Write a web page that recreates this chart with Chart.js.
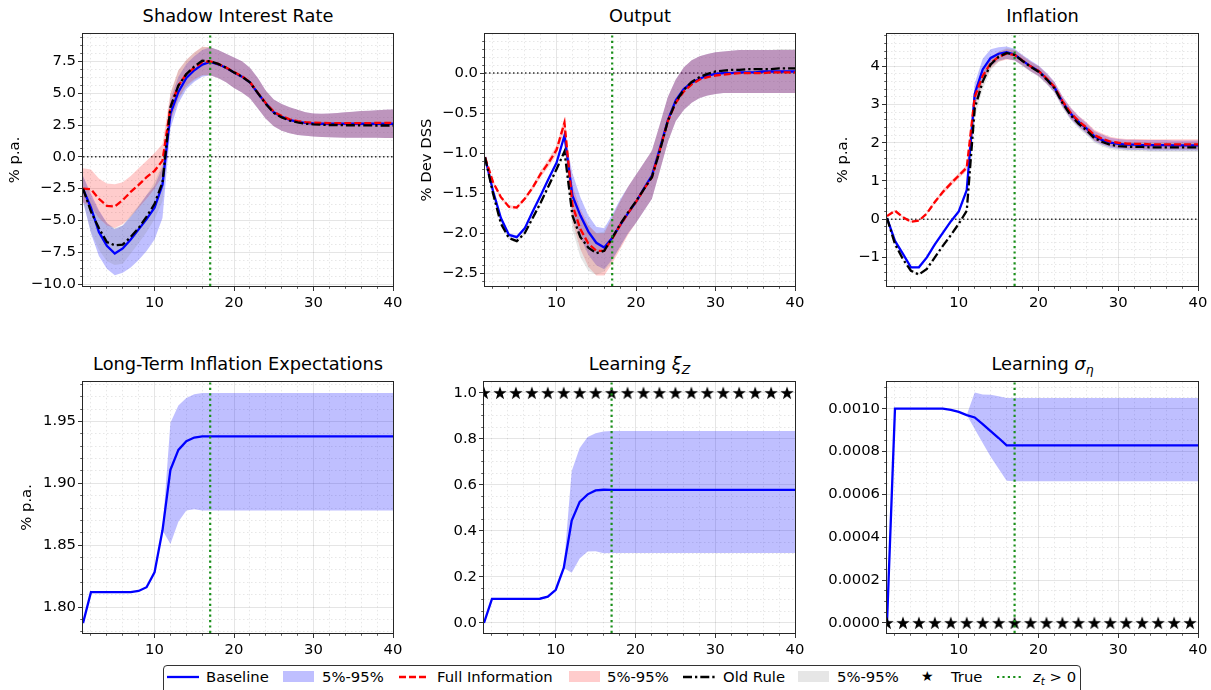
<!DOCTYPE html>
<html>
<head>
<meta charset="utf-8">
<script src="https://cdn.jsdelivr.net/npm/chart.js@4.4.1/dist/chart.umd.min.js"></script>
<style>
  html, body { margin: 0; padding: 0; background: #fff; }
  body { width: 1211px; height: 690px; position: relative; overflow: hidden; font-family: 'DejaVu Sans', sans-serif; color: #000; }
  canvas { position: absolute; }
  .title { position: absolute; text-align: center; font-size: 17.8px; line-height: 20px; white-space: nowrap; }
  .title sub, #legend sub { font-size: 70%; vertical-align: -0.3em; line-height: 0; }
  #legend { position: absolute; left: 163px; top: 665px; width: 916px; height: 40px; border: 1px solid #333; border-radius: 4px; font-size: 14.8px; }
  #legend > * { position: absolute; }
  #legend .txt { top: 2px; line-height: 17px; white-space: nowrap; }
  #legend .patch { top: 5px; width: 31px; height: 11px; }
  #legend svg { top: 5px; }
</style>
</head>
<body>

<div class="title" style="left:83px;width:310px;top:6px">Shadow Interest Rate</div>
<div class="title" style="left:485px;width:310px;top:6px">Output</div>
<div class="title" style="left:887px;width:311px;top:6px">Inflation</div>
<div class="title" style="left:83px;width:310px;top:354px">Long-Term Inflation Expectations</div>
<div class="title" style="left:484px;width:311px;top:354px">Learning <i>ξ</i><sub><i>Z</i></sub></div>
<div class="title" style="left:887px;width:311px;top:354px">Learning <i>σ</i><sub><i>η</i></sub></div>

<canvas id="c1" width="405" height="289" style="left:2px;top:23px"></canvas>
<canvas id="c2" width="395" height="289" style="left:414px;top:23px"></canvas>
<canvas id="c3" width="381" height="289" style="left:830px;top:23px"></canvas>
<canvas id="c4" width="393" height="288" style="left:14px;top:371px"></canvas>
<canvas id="c5" width="395" height="288" style="left:414px;top:371px"></canvas>
<canvas id="c6" width="396" height="288" style="left:815px;top:371px"></canvas>

<div id="legend">
  <svg style="left:3px" width="32" height="12"><line x1="0" y1="6" x2="32" y2="6" stroke="#0000ff" stroke-width="2.3"/></svg>
  <span class="txt" style="left:42px">Baseline</span>
  <span class="patch" style="left:119px;background:rgba(0,0,255,0.25)"></span>
  <span class="txt" style="left:158px">5%-95%</span>
  <svg style="left:235px" width="30" height="12"><line x1="0" y1="6" x2="30" y2="6" stroke="#ff0000" stroke-width="2.3" stroke-dasharray="7,3"/></svg>
  <span class="txt" style="left:273px">Full Information</span>
  <span class="patch" style="left:405px;background:rgba(255,0,0,0.2)"></span>
  <span class="txt" style="left:443px">5%-95%</span>
  <svg style="left:519px" width="33" height="12"><line x1="0" y1="6" x2="33" y2="6" stroke="#000000" stroke-width="2.3" stroke-dasharray="9,3,2.3,3"/></svg>
  <span class="txt" style="left:559px">Old Rule</span>
  <span class="patch" style="left:634px;background:rgba(128,128,128,0.2)"></span>
  <span class="txt" style="left:673px">5%-95%</span>
  <span class="txt" style="left:757px;font-size:14px">★</span>
  <span class="txt" style="left:787px">True</span>
  <svg style="left:833px" width="27" height="12"><line x1="0" y1="6" x2="27" y2="6" stroke="#1a8f1a" stroke-width="2.2" stroke-dasharray="2.2,3.2"/></svg>
  <span class="txt" style="left:869px"><i>z</i><sub><i>t</i></sub> &gt; 0</span>
</div>

<script>
// periods on the horizontal axis
const periods = [1, 2, 3, 4, 5, 6, 7, 8, 9, 10, 11, 12, 13, 14, 15, 16, 17, 18, 19, 20,
  21, 22, 23, 24, 25, 26, 27, 28, 29, 30, 31, 32, 33, 34, 35, 36, 37, 38, 39, 40];
const liftoffPeriod = 17;

// shadow interest rate
const rateBase = [-2.5, -4.0, -5.9, -7.0, -7.6, -7.2, -6.5, -5.7, -4.9, -4.0, -2.2, 3.4, 5.1, 6.2, 6.8, 7.25, 7.45, 7.27, 7.0, 6.63,
  6.3, 5.85, 5.0, 4.2, 3.5, 3.15, 2.9, 2.75, 2.67, 2.62, 2.6, 2.6, 2.6, 2.6, 2.6, 2.6, 2.6, 2.6, 2.6, 2.6];
const rateBaseLo = [-3.5, -6.0, -7.8, -8.8, -9.3, -9.1, -8.7, -8.1, -7.4, -6.5, -4.8, 2.2, 4.2, 5.3, 5.9, 6.3, 6.4, 6.2, 5.85, 5.4,
  5.05, 4.6, 3.8, 3.0, 2.4, 2.05, 1.85, 1.72, 1.65, 1.6, 1.56, 1.54, 1.52, 1.5, 1.5, 1.5, 1.5, 1.5, 1.48, 1.48];
const rateBaseHi = [-1.5, -2.9, -4.2, -5.2, -5.7, -5.4, -4.7, -3.9, -3.0, -2.3, -0.8, 4.5, 6.3, 7.3, 7.9, 8.4, 8.6, 8.4, 8.1, 7.8,
  7.5, 7.0, 6.2, 5.2, 4.5, 4.15, 3.9, 3.7, 3.5, 3.4, 3.38, 3.4, 3.45, 3.5, 3.55, 3.6, 3.62, 3.65, 3.7, 3.72];
const rateFull = [-2.5, -2.55, -3.3, -3.85, -3.9, -3.4, -2.75, -2.2, -1.6, -1.1, -0.3, 3.9, 5.6, 6.5, 7.0, 7.45, 7.5, 7.3, 7.02, 6.66,
  6.33, 5.88, 5.02, 4.22, 3.55, 3.2, 2.95, 2.8, 2.72, 2.68, 2.66, 2.65, 2.65, 2.65, 2.65, 2.65, 2.65, 2.66, 2.66, 2.66];
const rateFullLo = [-3.6, -3.9, -4.8, -5.4, -5.6, -5.3, -4.7, -4.0, -3.3, -2.5, -1.5, 2.8, 4.6, 5.6, 6.1, 6.4, 6.4, 6.2, 5.85, 5.4,
  5.05, 4.6, 3.8, 3.0, 2.4, 2.05, 1.85, 1.72, 1.65, 1.6, 1.56, 1.54, 1.52, 1.5, 1.5, 1.5, 1.5, 1.5, 1.48, 1.48];
const rateFullHi = [-0.9, -1.0, -1.7, -2.1, -2.15, -2.0, -1.5, -0.9, -0.3, 0.3, 1.0, 5.0, 6.8, 7.6, 8.2, 8.65, 8.6, 8.4, 8.1, 7.8,
  7.5, 7.0, 6.2, 5.2, 4.5, 4.15, 3.9, 3.7, 3.5, 3.4, 3.38, 3.4, 3.45, 3.5, 3.55, 3.6, 3.62, 3.65, 3.7, 3.72];
const rateOld = [-2.5, -4.3, -5.6, -6.7, -6.95, -6.9, -6.3, -5.6, -4.7, -3.7, -2.0, 3.9, 5.6, 6.5, 7.1, 7.55, 7.5, 7.3, 7.0, 6.63,
  6.3, 5.85, 5.0, 4.15, 3.45, 3.1, 2.85, 2.7, 2.6, 2.55, 2.52, 2.5, 2.5, 2.48, 2.48, 2.47, 2.47, 2.46, 2.46, 2.46];
const rateOldLo = [-3.5, -5.9, -7.3, -8.2, -8.5, -8.4, -7.6, -6.8, -5.9, -4.9, -3.5, 2.8, 4.5, 5.5, 6.0, 6.4, 6.4, 6.2, 5.85, 5.4,
  5.05, 4.6, 3.8, 3.0, 2.4, 2.05, 1.85, 1.72, 1.65, 1.6, 1.56, 1.54, 1.52, 1.5, 1.5, 1.5, 1.5, 1.5, 1.48, 1.48];
const rateOldHi = [-1.5, -3.2, -4.3, -5.2, -5.6, -5.4, -4.6, -3.8, -3.0, -2.0, -0.5, 5.0, 6.8, 7.6, 8.2, 8.6, 8.6, 8.4, 8.1, 7.8,
  7.5, 7.0, 6.2, 5.2, 4.5, 4.15, 3.9, 3.7, 3.5, 3.4, 3.38, 3.4, 3.45, 3.5, 3.55, 3.6, 3.62, 3.65, 3.7, 3.72];

// output
const outBase = [-1.05, -1.47, -1.81, -2.02, -2.05, -1.94, -1.73, -1.53, -1.32, -1.12, -0.78, -1.53, -1.78, -1.98, -2.12, -2.18, -2.06, -1.9, -1.75, -1.61,
  -1.44, -1.28, -0.94, -0.59, -0.34, -0.2, -0.12, -0.07, -0.03, -0.01, 0.0, 0.0, 0.01, 0.01, 0.01, 0.02, 0.02, 0.02, 0.02, 0.02];
const outBaseLo = [-1.06, -1.49, -1.83, -2.04, -2.07, -1.96, -1.75, -1.55, -1.34, -1.14, -0.8, -1.75, -2.05, -2.27, -2.4, -2.45, -2.33, -2.17, -2.0, -1.87,
  -1.72, -1.57, -1.22, -0.86, -0.6, -0.46, -0.37, -0.31, -0.28, -0.26, -0.25, -0.25, -0.25, -0.25, -0.25, -0.25, -0.25, -0.25, -0.25, -0.25];
const outBaseHi = [-1.04, -1.45, -1.79, -2.0, -2.03, -1.92, -1.71, -1.51, -1.3, -1.1, -0.76, -1.25, -1.55, -1.78, -1.92, -1.94, -1.77, -1.58, -1.42, -1.27,
  -1.12, -0.97, -0.64, -0.3, -0.08, 0.07, 0.16, 0.21, 0.24, 0.26, 0.27, 0.28, 0.29, 0.29, 0.29, 0.29, 0.29, 0.29, 0.29, 0.29];
const outFull = [-1.05, -1.36, -1.55, -1.67, -1.68, -1.57, -1.43, -1.26, -1.12, -0.96, -0.62, -1.65, -1.95, -2.13, -2.22, -2.22, -2.07, -1.9, -1.75, -1.61,
  -1.45, -1.3, -0.96, -0.6, -0.37, -0.23, -0.14, -0.08, -0.05, -0.03, -0.02, -0.01, 0.0, 0.0, 0.0, 0.0, 0.01, 0.01, 0.01, 0.01];
const outFullLo = [-1.06, -1.38, -1.57, -1.69, -1.7, -1.59, -1.46, -1.3, -1.17, -1.02, -0.72, -1.85, -2.2, -2.42, -2.53, -2.53, -2.38, -2.2, -2.02, -1.87,
  -1.72, -1.57, -1.22, -0.86, -0.6, -0.46, -0.37, -0.31, -0.28, -0.26, -0.25, -0.25, -0.25, -0.25, -0.25, -0.25, -0.25, -0.25, -0.25, -0.25];
const outFullHi = [-1.04, -1.34, -1.53, -1.65, -1.66, -1.55, -1.4, -1.22, -1.07, -0.9, -0.55, -1.4, -1.7, -1.9, -2.0, -2.0, -1.8, -1.6, -1.42, -1.27,
  -1.12, -0.97, -0.64, -0.3, -0.08, 0.07, 0.16, 0.21, 0.24, 0.26, 0.27, 0.28, 0.29, 0.29, 0.29, 0.29, 0.29, 0.29, 0.29, 0.29];
const outOld = [-1.05, -1.5, -1.88, -2.06, -2.1, -2.0, -1.81, -1.62, -1.41, -1.2, -0.98, -1.78, -2.05, -2.18, -2.25, -2.22, -2.06, -1.89, -1.74, -1.6,
  -1.45, -1.3, -0.97, -0.6, -0.36, -0.21, -0.11, -0.05, -0.01, 0.02, 0.03, 0.04, 0.04, 0.05, 0.05, 0.05, 0.05, 0.06, 0.06, 0.06];
const outOldLo = [-1.06, -1.52, -1.9, -2.08, -2.12, -2.02, -1.83, -1.64, -1.43, -1.22, -1.0, -1.95, -2.3, -2.47, -2.52, -2.48, -2.35, -2.17, -2.0, -1.87,
  -1.72, -1.57, -1.22, -0.86, -0.6, -0.46, -0.37, -0.31, -0.28, -0.26, -0.25, -0.25, -0.25, -0.25, -0.25, -0.25, -0.25, -0.25, -0.25, -0.25];
const outOldHi = [-1.04, -1.48, -1.86, -2.04, -2.08, -1.98, -1.79, -1.6, -1.39, -1.18, -0.96, -1.5, -1.75, -1.9, -2.0, -1.98, -1.8, -1.6, -1.42, -1.27,
  -1.12, -0.97, -0.64, -0.3, -0.08, 0.07, 0.16, 0.21, 0.24, 0.26, 0.27, 0.28, 0.29, 0.29, 0.29, 0.29, 0.29, 0.3, 0.3, 0.3];

// inflation
const inflBase = [0.03, -0.57, -0.91, -1.26, -1.26, -1.0, -0.66, -0.36, -0.06, 0.2, 0.76, 3.28, 3.92, 4.22, 4.33, 4.37, 4.31, 4.15, 4.0, 3.88,
  3.68, 3.45, 3.07, 2.77, 2.55, 2.38, 2.17, 2.07, 2.0, 1.97, 1.95, 1.95, 1.94, 1.94, 1.94, 1.94, 1.93, 1.93, 1.93, 1.93];
const inflBaseLo = [0.01, -0.59, -0.93, -1.28, -1.28, -1.02, -0.68, -0.38, -0.08, 0.17, 0.7, 2.95, 3.65, 4.0, 4.15, 4.2, 4.15, 4.02, 3.87, 3.75,
  3.55, 3.32, 2.94, 2.63, 2.42, 2.24, 2.04, 1.94, 1.87, 1.84, 1.82, 1.81, 1.81, 1.8, 1.8, 1.8, 1.8, 1.8, 1.8, 1.8];
const inflBaseHi = [0.05, -0.55, -0.89, -1.24, -1.24, -0.98, -0.64, -0.34, -0.04, 0.23, 0.82, 3.55, 4.2, 4.45, 4.5, 4.52, 4.46, 4.3, 4.15, 4.02,
  3.83, 3.6, 3.22, 2.92, 2.7, 2.52, 2.31, 2.21, 2.13, 2.1, 2.08, 2.08, 2.07, 2.07, 2.07, 2.07, 2.06, 2.06, 2.06, 2.06];
const inflFull = [0.08, 0.22, 0.05, -0.07, -0.04, 0.15, 0.45, 0.71, 0.93, 1.14, 1.35, 3.2, 3.75, 4.08, 4.25, 4.33, 4.3, 4.15, 4.0, 3.88,
  3.69, 3.46, 3.09, 2.79, 2.57, 2.4, 2.2, 2.1, 2.03, 2.0, 1.98, 1.97, 1.97, 1.96, 1.96, 1.96, 1.96, 1.96, 1.96, 1.96];
const inflFullLo = [0.06, 0.2, 0.03, -0.09, -0.06, 0.13, 0.41, 0.65, 0.86, 1.07, 1.27, 2.95, 3.55, 3.95, 4.12, 4.18, 4.15, 4.02, 3.87, 3.75,
  3.56, 3.33, 2.96, 2.65, 2.44, 2.26, 2.06, 1.96, 1.9, 1.87, 1.85, 1.84, 1.84, 1.83, 1.83, 1.83, 1.83, 1.83, 1.83, 1.83];
const inflFullHi = [0.1, 0.24, 0.07, -0.05, -0.02, 0.17, 0.49, 0.77, 1.0, 1.21, 1.42, 3.4, 3.95, 4.25, 4.38, 4.45, 4.42, 4.28, 4.13, 4.01,
  3.82, 3.59, 3.22, 2.93, 2.71, 2.54, 2.34, 2.24, 2.16, 2.12, 2.1, 2.1, 2.1, 2.09, 2.09, 2.09, 2.09, 2.09, 2.09, 2.09];
const inflOld = [0.03, -0.65, -1.05, -1.35, -1.45, -1.3, -1.0, -0.7, -0.42, -0.12, 0.22, 2.9, 3.6, 4.05, 4.25, 4.35, 4.3, 4.14, 3.99, 3.86,
  3.66, 3.43, 3.04, 2.73, 2.5, 2.33, 2.12, 2.02, 1.95, 1.91, 1.9, 1.89, 1.89, 1.88, 1.88, 1.88, 1.88, 1.88, 1.88, 1.88];
const inflOldLo = [0.01, -0.67, -1.07, -1.37, -1.47, -1.32, -1.02, -0.72, -0.44, -0.14, 0.18, 2.65, 3.4, 3.9, 4.12, 4.2, 4.16, 4.0, 3.86, 3.73,
  3.53, 3.3, 2.91, 2.6, 2.37, 2.2, 2.0, 1.9, 1.83, 1.8, 1.78, 1.77, 1.77, 1.76, 1.76, 1.76, 1.76, 1.76, 1.76, 1.76];
const inflOldHi = [0.05, -0.63, -1.03, -1.33, -1.43, -1.28, -0.98, -0.68, -0.4, -0.1, 0.26, 3.15, 3.8, 4.2, 4.38, 4.48, 4.44, 4.28, 4.12, 3.99,
  3.79, 3.56, 3.17, 2.86, 2.63, 2.46, 2.25, 2.14, 2.07, 2.03, 2.02, 2.01, 2.01, 2.0, 2.0, 2.0, 2.0, 2.0, 2.0, 2.0];

// long-term inflation expectations
const expBase = [1.787, 1.812, 1.812, 1.812, 1.812, 1.812, 1.812, 1.813, 1.816, 1.828, 1.862, 1.911, 1.927, 1.934, 1.937, 1.938, 1.938, 1.938, 1.938, 1.938,
  1.938, 1.938, 1.938, 1.938, 1.938, 1.938, 1.938, 1.938, 1.938, 1.938, 1.938, 1.938, 1.938, 1.938, 1.938, 1.938, 1.938, 1.938, 1.938, 1.938];
const expLo = [1.787, 1.812, 1.812, 1.812, 1.812, 1.812, 1.812, 1.813, 1.816, 1.828, 1.862, 1.851, 1.869, 1.878, 1.879, 1.878, 1.878, 1.878, 1.878, 1.878,
  1.878, 1.878, 1.878, 1.878, 1.878, 1.878, 1.878, 1.878, 1.878, 1.878, 1.878, 1.878, 1.878, 1.878, 1.878, 1.878, 1.878, 1.878, 1.878, 1.878];
const expHi = [1.787, 1.812, 1.812, 1.812, 1.812, 1.812, 1.812, 1.813, 1.816, 1.828, 1.862, 1.949, 1.963, 1.969, 1.972, 1.973, 1.973, 1.973, 1.973, 1.973,
  1.973, 1.973, 1.973, 1.973, 1.973, 1.973, 1.973, 1.973, 1.973, 1.973, 1.973, 1.973, 1.973, 1.973, 1.973, 1.973, 1.973, 1.973, 1.973, 1.973];

// learning xi_z
const xiBase = [0.0, 0.104, 0.104, 0.104, 0.104, 0.104, 0.104, 0.105, 0.114, 0.144, 0.239, 0.445, 0.526, 0.559, 0.576, 0.579, 0.578, 0.578, 0.578, 0.578,
  0.578, 0.578, 0.578, 0.578, 0.578, 0.578, 0.578, 0.578, 0.578, 0.578, 0.578, 0.578, 0.578, 0.578, 0.578, 0.578, 0.578, 0.578, 0.578, 0.578];
const xiLo = [0.0, 0.104, 0.104, 0.104, 0.104, 0.104, 0.104, 0.105, 0.114, 0.144, 0.239, 0.218, 0.28, 0.31, 0.312, 0.303, 0.304, 0.304, 0.304, 0.304,
  0.304, 0.304, 0.304, 0.304, 0.304, 0.304, 0.304, 0.304, 0.304, 0.304, 0.304, 0.304, 0.304, 0.304, 0.304, 0.304, 0.304, 0.304, 0.304, 0.304];
const xiHi = [0.0, 0.104, 0.104, 0.104, 0.104, 0.104, 0.104, 0.105, 0.114, 0.144, 0.239, 0.66, 0.76, 0.808, 0.825, 0.832, 0.834, 0.834, 0.834, 0.834,
  0.834, 0.834, 0.834, 0.834, 0.834, 0.834, 0.834, 0.834, 0.834, 0.834, 0.834, 0.834, 0.834, 0.834, 0.834, 0.834, 0.834, 0.834, 0.834, 0.834];

// learning sigma_eta
const sigBase = [0.0, 0.001, 0.001, 0.001, 0.001, 0.001, 0.001, 0.001, 0.000994, 0.000985, 0.00097, 0.000959, 0.000928, 0.000895, 0.000863, 0.000829, 0.000829, 0.000829, 0.000829, 0.000829,
  0.000829, 0.000829, 0.000829, 0.000829, 0.000829, 0.000829, 0.000829, 0.000829, 0.000829, 0.000829, 0.000829, 0.000829, 0.000829, 0.000829, 0.000829, 0.000829, 0.000829, 0.000829, 0.000829, 0.000829];
const sigLo = [0.0, 0.001, 0.001, 0.001, 0.001, 0.001, 0.001, 0.001, 0.000994, 0.000985, 0.00097, 0.000905, 0.00084, 0.000775, 0.00072, 0.000664, 0.000661, 0.000661, 0.000661, 0.000661,
  0.000661, 0.000661, 0.000661, 0.000661, 0.000661, 0.000661, 0.000661, 0.000661, 0.000661, 0.000661, 0.000661, 0.000661, 0.000661, 0.000661, 0.000661, 0.000661, 0.000661, 0.000661, 0.000661, 0.000661];
const sigHi = [0.0, 0.001, 0.001, 0.001, 0.001, 0.001, 0.001, 0.001, 0.000994, 0.000985, 0.00097, 0.001076, 0.001066, 0.001065, 0.001058, 0.00105, 0.00105, 0.00105, 0.00105, 0.00105,
  0.00105, 0.00105, 0.00105, 0.00105, 0.00105, 0.00105, 0.00105, 0.00105, 0.00105, 0.00105, 0.00105, 0.00105, 0.00105, 0.00105, 0.00105, 0.00105, 0.00105, 0.00105, 0.00105, 0.00105];

// true parameter values (markers on every other period)
const trueT = [1, 3, 5, 7, 9, 11, 13, 15, 17, 19, 21, 23, 25, 27, 29, 31, 33, 35, 37, 39];
const xiTrue = [1, 1, 1, 1, 1, 1, 1, 1, 1, 1, 1, 1, 1, 1, 1, 1, 1, 1, 1, 1];
const sigTrue = [0, 0, 0, 0, 0, 0, 0, 0, 0, 0, 0, 0, 0, 0, 0, 0, 0, 0, 0, 0];

const BLUE_FILL = 'rgba(0,0,255,0.25)';
const RED_FILL = 'rgba(255,0,0,0.2)';
const GRAY_FILL = 'rgba(128,128,128,0.2)';
const GREEN = '#1a8f1a';
const LINE_W = 2.3;
const tickFont = { family: 'DejaVu Sans', size: 14.8 };

function pts(xs, ys) {
    return xs.map((x, i) => ({ x: x, y: ys[i] }));
}

function line(ys, color, dash, order) {
    return { data: pts(periods, ys), borderColor: color, borderWidth: LINE_W, borderDash: dash, pointRadius: 0, fill: false, order: order };
}

function band(lo, hi, color, order) {
    return [
        { data: pts(periods, lo), borderColor: 'rgba(0,0,0,0)', borderWidth: 1, pointRadius: 0, fill: false, order: order },
        { data: pts(periods, hi), borderColor: 'rgba(0,0,0,0)', borderWidth: 1, pointRadius: 0, fill: '-1', backgroundColor: color, order: order }
    ];
}

function zeroLine() {
    return { data: [{ x: 1, y: 0 }, { x: 40, y: 0 }], borderColor: '#333', borderWidth: 1.5, borderDash: [1.5, 2.5], pointRadius: 0, fill: false, order: 100 };
}

function liftoffLine(yMin, yMax) {
    return { data: [{ x: liftoffPeriod, y: yMin }, { x: liftoffPeriod, y: yMax }], borderColor: GREEN, borderWidth: 2.2, borderDash: [2.2, 3.2], pointRadius: 0, fill: false, order: 1 };
}

// filled five-point star marker
function makeStar(r) {
    const c = document.createElement('canvas');
    c.width = c.height = Math.ceil(2 * r + 2);
    const ctx = c.getContext('2d');
    const cx = c.width / 2, cy = c.height / 2 + 0.5;
    ctx.beginPath();
    for (let i = 0; i < 10; i++) {
        const rad = i % 2 === 0 ? r : r * 0.4;
        const ang = -Math.PI / 2 + i * Math.PI / 5;
        ctx.lineTo(cx + rad * Math.cos(ang), cy + rad * Math.sin(ang));
    }
    ctx.closePath();
    ctx.fillStyle = '#000';
    ctx.fill();
    return c;
}
const starImg = makeStar(7);

function trueMarkers(vals) {
    return { data: pts(trueT, vals), showLine: false, pointStyle: starImg, pointRadius: 6, borderColor: '#000', backgroundColor: '#000', order: 5 };
}

function threeModels(b, bLo, bHi, f, fLo, fHi, o, oLo, oHi) {
    return [
        ...band(bLo, bHi, BLUE_FILL, 90),
        ...band(fLo, fHi, RED_FILL, 80),
        ...band(oLo, oHi, GRAY_FILL, 70),
        line(b, '#0000ff', [], 30),
        line(f, '#ff0000', [7, 3], 20),
        line(o, '#000000', [9, 3, 2.3, 3], 10)
    ];
}

function axisTicks(min, max, step, skipEvery) {
    const out = [];
    for (let k = Math.ceil(min / step - 1e-9); k * step <= max + step * 1e-9; k++) {
        if (skipEvery && k % skipEvery === 0) continue;
        out.push({ value: k * step });
    }
    return out;
}

function fmt(v, dec) {
    return v.toFixed(dec).replace('-', '\u2212');
}

const framePlugin = {
    id: 'frame',
    afterDraw(chart) {
        const a = chart.chartArea, ctx = chart.ctx;
        const l = Math.round(a.left), t = Math.round(a.top);
        ctx.save();
        ctx.strokeStyle = '#262626';
        ctx.lineWidth = 1;
        ctx.strokeRect(l - 0.5, t - 0.5, Math.round(a.right) - l + 1, Math.round(a.bottom) - t + 1);
        ctx.restore();
    }
};

function makePanel(id, p) {
    const ratio = Math.round(p.major / p.minor);
    new Chart(document.getElementById(id), {
        type: 'line',
        data: { datasets: p.datasets },
        options: {
            responsive: false,
            animation: false,
            events: [],
            layout: { padding: { left: 0, right: p.padR, top: 6, bottom: 0 } },
            plugins: { legend: { display: false }, tooltip: { enabled: false } },
            elements: { line: { tension: 0 } },
            scales: {
                x: {
                    type: 'linear', axis: 'x', position: 'bottom', min: 1, max: 40, weight: 1,
                    afterBuildTicks: s => { s.ticks = axisTicks(1, 40, 10); },
                    afterFit: s => { s.height = 26; },
                    ticks: { callback: v => String(v), font: tickFont, color: '#000', padding: 3, autoSkip: false, maxRotation: 0 },
                    grid: { color: 'rgba(0,0,0,0.1)', lineWidth: 1, tickLength: 5, tickColor: '#333' },
                    border: { display: false }
                },
                y: {
                    type: 'linear', axis: 'y', position: 'left', min: p.yMin, max: p.yMax, weight: 1,
                    afterBuildTicks: s => { s.ticks = axisTicks(p.yMin, p.yMax, p.major); },
                    afterFit: s => { s.width = p.wy; },
                    ticks: { callback: v => fmt(v, p.dec), font: tickFont, color: '#000', padding: 2, autoSkip: false },
                    grid: { color: 'rgba(0,0,0,0.1)', lineWidth: 1, tickLength: 5, tickColor: '#333' },
                    border: { display: false },
                    title: { display: !!p.yTitle, text: p.yTitle, font: tickFont, color: '#000', padding: { top: 4, bottom: 0 } }
                },
                xm: {
                    type: 'linear', axis: 'x', position: 'bottom', min: 1, max: 40, weight: 0,
                    afterBuildTicks: s => { s.ticks = axisTicks(1, 40, 2, 5); },
                    afterFit: s => { s.height = 0; },
                    ticks: { display: false },
                    grid: { color: 'rgba(0,0,0,0.12)', lineWidth: 0.8, tickLength: 2.8, tickColor: '#333', borderDash: [1.5, 2.5] },
                    border: { display: false, dash: [1.5, 2.5] }
                },
                ym: {
                    type: 'linear', axis: 'y', position: 'left', min: p.yMin, max: p.yMax, weight: 0,
                    afterBuildTicks: s => { s.ticks = axisTicks(p.yMin, p.yMax, p.minor, ratio); },
                    afterFit: s => { s.width = 0; },
                    ticks: { display: false },
                    grid: { color: 'rgba(0,0,0,0.12)', lineWidth: 0.8, tickLength: 2.8, tickColor: '#333', borderDash: [1.5, 2.5] },
                    border: { display: false, dash: [1.5, 2.5] }
                }
            }
        },
        plugins: [framePlugin]
    });
}

document.addEventListener('DOMContentLoaded', function () {
    makePanel('c1', {
        yMin: -10.15, yMax: 9.66, major: 2.5, minor: 0.625, dec: 1, yTitle: '% p.a.', wy: 81, padR: 14,
        datasets: [zeroLine(), liftoffLine(-10.15, 9.66),
            ...threeModels(rateBase, rateBaseLo, rateBaseHi, rateFull, rateFullLo, rateFullHi, rateOld, rateOldLo, rateOldHi)]
    });
    makePanel('c2', {
        yMin: -2.66, yMax: 0.49, major: 0.5, minor: 0.1, dec: 1, yTitle: '% Dev DSS', wy: 71, padR: 14,
        datasets: [zeroLine(), liftoffLine(-2.66, 0.49),
            ...threeModels(outBase, outBaseLo, outBaseHi, outFull, outFullLo, outFullHi, outOld, outOldLo, outOldHi)]
    });
    makePanel('c3', {
        yMin: -1.75, yMax: 4.85, major: 1, minor: 0.2, dec: 0, yTitle: '% p.a.', wy: 57, padR: 13,
        datasets: [zeroLine(), liftoffLine(-1.75, 4.85),
            ...threeModels(inflBase, inflBaseLo, inflBaseHi, inflFull, inflFullLo, inflFullHi, inflOld, inflOldLo, inflOldHi)]
    });
    makePanel('c4', {
        yMin: 1.779, yMax: 1.982, major: 0.05, minor: 0.01, dec: 2, yTitle: '% p.a.', wy: 69, padR: 14,
        datasets: [liftoffLine(1.779, 1.982), ...band(expLo, expHi, BLUE_FILL, 90), line(expBase, '#0000ff', [], 30)]
    });
    makePanel('c5', {
        yMin: -0.044, yMax: 1.048, major: 0.2, minor: 0.05, dec: 1, yTitle: '', wy: 70, padR: 14,
        datasets: [liftoffLine(-0.044, 1.048), trueMarkers(xiTrue), ...band(xiLo, xiHi, BLUE_FILL, 90), line(xiBase, '#0000ff', [], 30)]
    });
    makePanel('c6', {
        yMin: -0.0000472, yMax: 0.001125, major: 0.0002, minor: 0.00005, dec: 4, yTitle: '', wy: 72, padR: 13,
        datasets: [liftoffLine(-0.0000472, 0.001125), trueMarkers(sigTrue), ...band(sigLo, sigHi, BLUE_FILL, 90), line(sigBase, '#0000ff', [], 30)]
    });
});
</script>
</body>
</html>
